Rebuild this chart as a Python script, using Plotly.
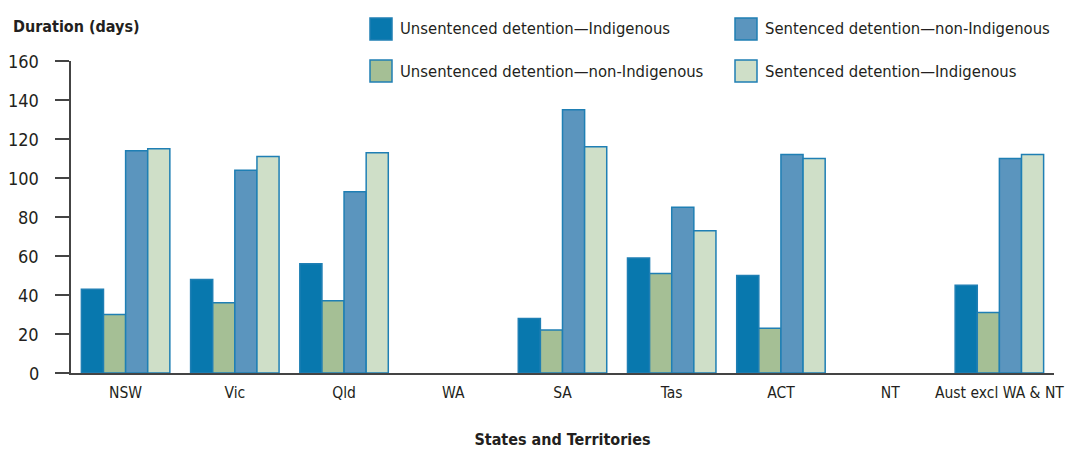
import plotly.graph_objects as go

# categories and series values (days)
states = ["NSW", "Vic", "Qld", "WA", "SA", "Tas", "ACT", "NT", "Aust excl WA & NT"]

unsent_indig = [43, 48, 56, None, 28, 59, 50, None, 45]
unsent_non_indig = [30, 36, 37, None, 22, 51, 23, None, 31]
sent_non_indig = [114, 104, 93, None, 135, 85, 112, None, 110]
sent_indig = [115, 111, 113, None, 116, 73, 110, None, 112]

y_ticks = [0, 20, 40, 60, 80, 100, 120, 140, 160]

series_names = [
    "Unsentenced detention\u2014Indigenous",
    "Unsentenced detention\u2014non-Indigenous",
    "Sentenced detention\u2014non-Indigenous",
    "Sentenced detention\u2014Indigenous",
]
series_values = [unsent_indig, unsent_non_indig, sent_non_indig, sent_indig]
series_colors = ["#0878ae", "#a5bf95", "#5b95be", "#cfdfc8"]
outline = "#1f7fb4"

FONT = "Liberation Sans Narrow, DejaVu Sans Condensed, Arial Narrow, sans-serif"
TXT = "#231f20"
AXIS = "#444444"

W, H = 1068, 449
L, R, T, B = 71, 14, 61, 76
pw, ph = W - L - R, H - T - B


# window pixel -> paper coords
def px_x(x):
    return (x - L) / pw


def px_y(y):
    return (H - B - y) / ph


fig = go.Figure()
for name, vals, col in zip(series_names, series_values, series_colors):
    fig.add_trace(go.Bar(
        x=states, y=vals, name=name,
        marker=dict(color=col, line=dict(color=outline, width=1.5)),
        showlegend=False,
    ))

# legend drawn by hand: two rows, two columns, big square swatches
legend_pos = [(370, 29), (370, 71), (735, 29), (735, 71)]
for (lx, ly), name, col in zip(legend_pos, series_names, series_colors):
    fig.add_shape(type="rect", xref="paper", yref="paper",
                  x0=px_x(lx), x1=px_x(lx + 22), y0=px_y(ly + 11), y1=px_y(ly - 11),
                  fillcolor=col, line=dict(color=outline, width=1.5))
    fig.add_annotation(xref="paper", yref="paper", x=px_x(lx + 28), y=px_y(ly),
                       text=name, showarrow=False, xanchor="left", yanchor="middle",
                       font=dict(family=FONT, size=16.5, color=TXT))

# y tick labels placed well left of the tick marks, as in the reference
for v in y_ticks:
    fig.add_annotation(xref="paper", yref="y", x=px_x(41), y=v,
                       text=str(v), showarrow=False, xanchor="right", yanchor="middle",
                       font=dict(family=FONT, size=18, color=TXT))

fig.add_annotation(xref="paper", yref="paper", x=px_x(11), y=px_y(27),
                   text="<b>Duration (days)</b>", showarrow=False,
                   xanchor="left", yanchor="middle",
                   font=dict(family=FONT, size=16, color=TXT))

fig.update_layout(
    width=W, height=H,
    margin=dict(l=L, r=R, t=T, b=B),
    paper_bgcolor="white", plot_bgcolor="white",
    barmode="group", bargap=0.19, bargroupgap=0,
    font=dict(family=FONT, size=17, color=TXT),
    xaxis=dict(
        range=[-0.5, 8.5], automargin=False,
        showline=True, linecolor=AXIS, linewidth=1.5,
        ticks="", showgrid=False, ticklabelstandoff=5,
        title=dict(text="<b>States and Territories</b>", standoff=34,
                   font=dict(family=FONT, size=16, color=TXT)),
        tickfont=dict(family=FONT, size=15.5, color=TXT),
    ),
    yaxis=dict(
        range=[0, 160], tickvals=y_ticks, showticklabels=False,
        showline=True, linecolor=AXIS, linewidth=1.5,
        ticks="outside", ticklen=14, tickwidth=1.5, tickcolor=AXIS,
        showgrid=False, zeroline=False, automargin=False,
    ),
)

# the page body has a default 8px margin; drop it so the figure fills the window
fig.write_html("out.html", config={"displayModeBar": False},
               post_script="document.body.style.margin='0';")
